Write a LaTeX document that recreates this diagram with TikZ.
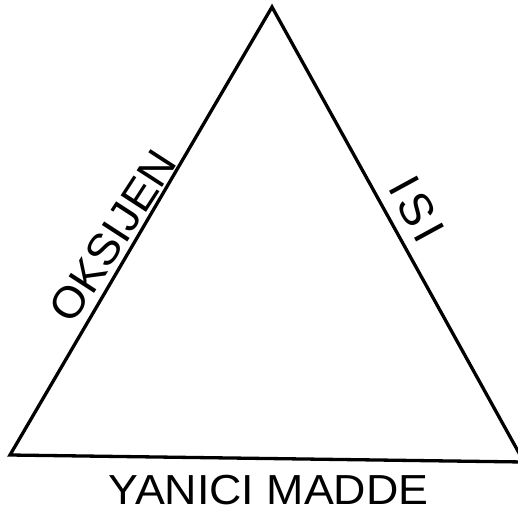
\documentclass[tikz,border=0pt]{standalone}
\usepackage{fontspec}
\setmainfont{Liberation Sans}
\tikzset{
  edge/.style={line width=3.3pt, line join=miter, line cap=butt},
  lbl/.style={inner sep=0pt, font=\fontsize{42}{42}\selectfont}
}
\begin{document}
\begin{tikzpicture}[x=1pt,y=-1pt]
\useasboundingbox (0,0) rectangle (518,513);
\coordinate (apex) at (272,7);
\coordinate (bl) at (10,455);
\coordinate (br) at (524,462);
\begin{scope}
\clip (0,0) rectangle (518,513);
\draw[edge] (bl) -- (apex) -- (br) -- cycle;
\end{scope}
\node[lbl, rotate=57, xscale=1.08, yscale=1.05] (oks) at (113,236) {OKSIJEN};
\node[lbl, rotate=-61.4, font=\fontsize{46}{46}\selectfont] (isi) at (417,209) {I\hspace{5pt}S\hspace{5pt}I};
\node[lbl, xscale=1.066] (fuel) at (268.5,490) {YANICI MADDE};
\end{tikzpicture}
\end{document}
